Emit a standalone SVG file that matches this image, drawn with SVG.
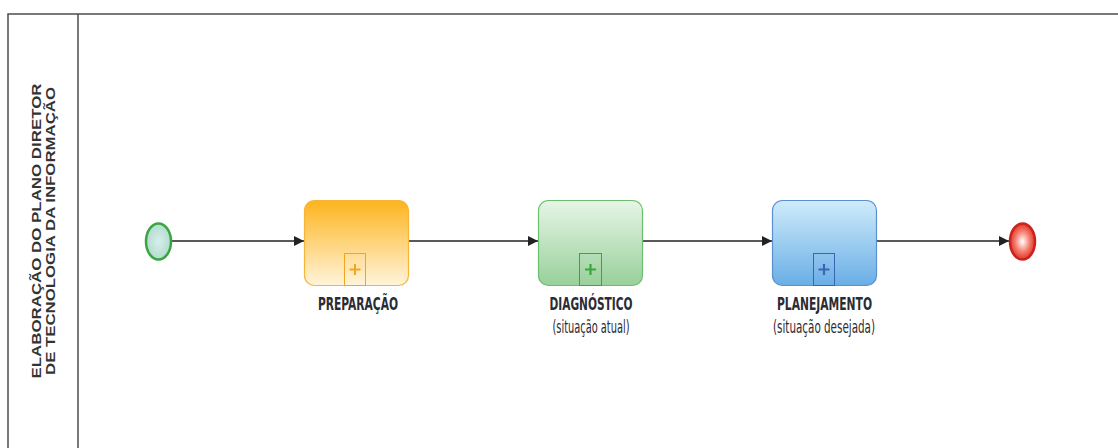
<svg xmlns="http://www.w3.org/2000/svg" width="1118" height="448" viewBox="0 0 1118 448">
<style>
.lane{fill:none;stroke:#4d4d4d;stroke-width:1.5}
.conn{fill:none;stroke:#222;stroke-width:1.3}
.lbl{font-family:"Liberation Sans Narrow","DejaVu Sans Condensed","Liberation Sans",sans-serif;font-size:17px;fill:#2b2b33;text-anchor:middle}
.b{font-weight:bold}
.lane-t{font-family:"Liberation Sans","DejaVu Sans",sans-serif;font-size:13.5px;font-weight:bold;fill:#333;text-anchor:middle}
</style>
<defs>
<linearGradient id="gO" x1="0" y1="0" x2="0" y2="1"><stop offset="0" stop-color="#fdb41e"/><stop offset="1" stop-color="#fff4da"/></linearGradient>
<linearGradient id="gG" x1="0" y1="0" x2="0" y2="1"><stop offset="0" stop-color="#e6f5e6"/><stop offset="1" stop-color="#98d09a"/></linearGradient>
<linearGradient id="gB" x1="0" y1="0" x2="0" y2="1"><stop offset="0" stop-color="#cfecfb"/><stop offset="1" stop-color="#6aaee6"/></linearGradient>
<radialGradient id="gS" cx="0.5" cy="0.5" r="0.5"><stop offset="0" stop-color="#d6efea"/><stop offset="1" stop-color="#b3dccf"/></radialGradient>
<radialGradient id="gE" cx="0.5" cy="0.5" r="0.5"><stop offset="0" stop-color="#ffffff"/><stop offset="0.6" stop-color="#f47a6a"/><stop offset="1" stop-color="#e3342b"/></radialGradient>
<marker id="arr" viewBox="0 0 10 10" refX="10" refY="5" markerWidth="10" markerHeight="10" markerUnits="userSpaceOnUse" orient="auto"><path d="M0,0 L10,5 L0,10 z" fill="#222"/></marker>
</defs>
<g id="lane">
<rect class="lane" x="8" y="14" width="1120" height="450"/>
<line class="lane" x1="78" y1="14" x2="78" y2="448"/>
<text class="lane-t" transform="translate(41,231) rotate(-90)"><tspan x="0" y="0" textLength="295" lengthAdjust="spacingAndGlyphs">ELABORAÇÃO DO  PLANO DIRETOR</tspan><tspan x="0" y="14" textLength="288" lengthAdjust="spacingAndGlyphs">DE TECNOLOGIA DA INFORMAÇÃO</tspan></text>
</g>
<g id="connectors">
<line class="conn" x1="172" y1="241" x2="304" y2="241" marker-end="url(#arr)"/>
<line class="conn" x1="408" y1="241" x2="538" y2="241" marker-end="url(#arr)"/>
<line class="conn" x1="642" y1="241" x2="772" y2="241" marker-end="url(#arr)"/>
<line class="conn" x1="876" y1="241" x2="1009" y2="241" marker-end="url(#arr)"/>
</g>
<g id="start">
<ellipse cx="158.5" cy="241.5" rx="12.5" ry="18" fill="url(#gS)" stroke="#3aa63f" stroke-width="2.5"/>
</g>
<g id="preparacao">
<rect x="304.5" y="200.5" width="104" height="85" rx="10" fill="url(#gO)" stroke="#f6b43a" stroke-width="1.2"/>
<rect x="344.5" y="253.5" width="21" height="32" fill="none" stroke="#f3a51c" stroke-width="1"/>
<path d="M355,264 v11 M349.5,269.5 h11" stroke="#f3a51c" stroke-width="2"/>
<text class="lbl b" x="358" y="310" textLength="80" lengthAdjust="spacingAndGlyphs">PREPARAÇÃO</text>
</g>
<g id="diagnostico">
<rect x="538.5" y="200.5" width="104" height="85" rx="10" fill="url(#gG)" stroke="#6cbf6e" stroke-width="1.2"/>
<rect x="579.5" y="253.5" width="22" height="32" fill="none" stroke="#3aa63f" stroke-width="1"/>
<path d="M590.5,264 v11 M585,269.5 h11" stroke="#3aa63f" stroke-width="2.2"/>
<text class="lbl b" x="591" y="310" textLength="83" lengthAdjust="spacingAndGlyphs">DIAGNÓSTICO</text>
<text class="lbl" x="591" y="333" textLength="77" lengthAdjust="spacingAndGlyphs">(situação atual)</text>
</g>
<g id="planejamento">
<rect x="772.5" y="200.5" width="104" height="85" rx="10" fill="url(#gB)" stroke="#5b8fd0" stroke-width="1.2"/>
<rect x="813.5" y="253.5" width="21" height="32" fill="none" stroke="#3a66b0" stroke-width="1"/>
<path d="M824,264 v11 M818.5,269.5 h11" stroke="#3a66b0" stroke-width="2.2"/>
<text class="lbl b" x="824.5" y="310" textLength="95" lengthAdjust="spacingAndGlyphs">PLANEJAMENTO</text>
<text class="lbl" x="824" y="333" textLength="102" lengthAdjust="spacingAndGlyphs">(situação desejada)</text>
</g>
<g id="end">
<ellipse cx="1022.5" cy="241.5" rx="12.5" ry="18" fill="url(#gE)" stroke="#c8231d" stroke-width="2.5"/>
</g>
</svg>
